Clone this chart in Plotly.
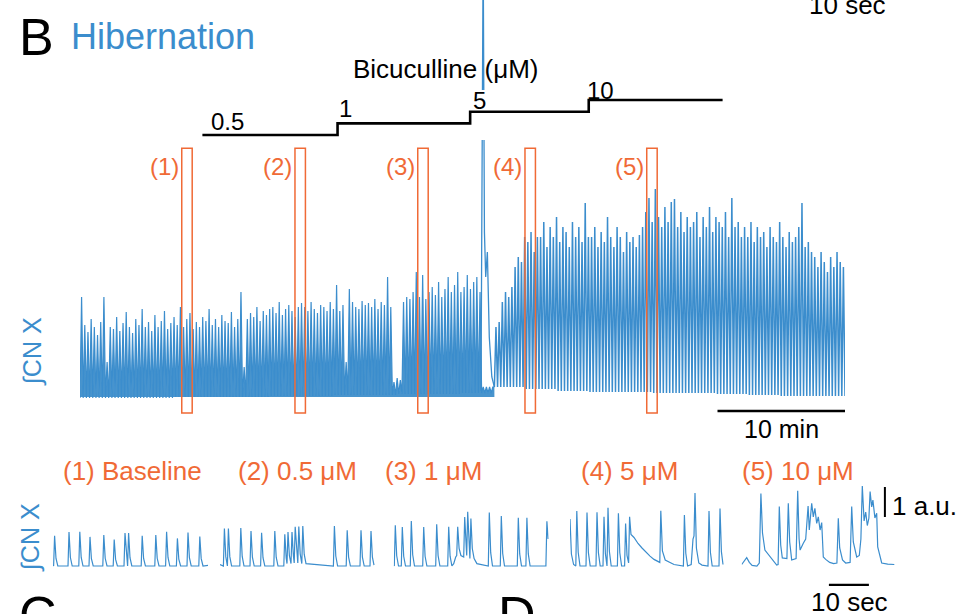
import plotly.graph_objects as go

W, H = 961, 614
BLUE = '#3b8dcd'
ORANGE = '#f06a36'
FONT = 'Liberation Sans, Arial, sans-serif'

# ---------------- main recording (time in min, amplitude in a.u.) ----------------
main_step_min = 0.25
main_block_min = 2.5
main_peaks = [
    1.0, 0.72, 0.65, 0.78, 0.7, 0.62, 0.75, 1.0, 0.35, 0.7,
    0.68, 0.8, 0.66, 0.74, 0.85, 0.7, 0.64, 0.78, 0.72, 0.88,
    0.7, 0.75, 0.66, 0.82, 0.7, 0.76, 0.86, 0.68, 0.74, 0.8,
    0.72, 0.9, 0.7, 0.78, 0.84, 0.68, 0.75, 0.7, 0.8, 0.76,
    0.88, 0.72, 0.78, 0.7, 0.82, 0.76, 0.74, 0.85, 0.7, 0.78,
    1.05, 0.3, 0.78, 0.84, 0.8, 0.9, 0.76, 0.86, 0.82, 0.88,
    0.9, 0.84, 0.95, 0.82, 0.88, 0.92, 0.86, 0.8, 0.9, 0.94,
    0.9, 0.86, 0.95, 0.88, 0.84, 0.92, 0.9, 0.86, 0.95, 0.88,
    1.12, 0.86, 0.92, 0.35, 1.08, 0.95, 0.9, 0.88, 0.96, 0.92,
    0.94, 0.9, 0.98, 0.88, 0.95, 0.92, 1.2, 0.9, 0.15, 0.19,
    0.17, 0.95, 1.0, 0.98, 1.05, 1.25, 1.0, 1.22, 0.98, 1.05,
    1.1, 1.02, 1.15, 1.0, 1.08, 1.2, 1.05, 1.12, 1.25, 1.05,
    1.1, 1.22, 1.08, 1.15, 1.2, 1.05, 0.1, 0.1, 0.1, 0.1,
    0.7, 0.75, 0.95, 1.05, 1.0, 1.1, 1.3, 1.4, 1.35, 1.6,
    1.55, 1.65, 1.45, 1.6, 1.6, 1.75, 1.5, 1.7, 1.6, 1.8,
    1.55, 1.7, 1.65, 1.5, 1.75, 1.6, 1.7, 1.55, 1.94, 1.6,
    1.6, 1.7, 1.5, 1.65, 1.55, 1.8, 1.6, 1.5, 1.7, 1.6,
    1.45, 1.65, 1.55, 1.6, 1.5, 1.62, 1.7, 1.85, 1.99, 1.75,
    2.08, 1.8, 1.7, 1.9, 1.75, 1.95, 1.98, 1.7, 1.85, 1.65,
    1.8, 1.7, 1.75, 1.85, 1.6, 1.8, 1.7, 1.9, 1.65, 1.8,
    1.75, 1.7, 1.85, 1.6, 1.99, 1.7, 1.75, 1.6, 1.7, 1.6,
    1.75, 1.55, 1.7, 1.6, 1.65, 1.5, 1.7, 1.6, 1.55, 1.75,
    1.6, 1.5, 1.65, 1.55, 1.6, 1.7, 1.94, 1.5, 1.55, 1.45,
    1.4, 1.3, 1.45, 1.35, 1.25, 1.4, 1.3, 1.45, 1.35, 1.3,
]
main_base = [-0.01, -0.01, -0.01, 0.0, 0.0, 0.0, 0.01, 0.01, 0.02, 0.02, 0.03, 0.03,
             0.04, 0.1, 0.08, 0.06, 0.05, 0.05, 0.04, 0.04, 0.03, 0.02, 0.01, 0.01]
event_t = [31.45, 31.62, 31.72, 31.82, 31.95, 32.1, 32.3, 32.5]
event_v = [0.06, 4.5, 1.65, 1.2, 1.45, 0.6, 0.2, 0.1]
main_post_event_min = 32.5

bic_labels = ['0.5', '1', '5', '10']
bic_start_min = [9.6, 20.2, 30.6, 39.9]
bic_end_min = 50.4

window_labels = ['(1)', '(2)', '(3)', '(4)', '(5)']
window_start_min = [7.98, 16.86, 26.49, 34.9, 44.45]
window_len_min = 0.82
main_scale_min = 10

# ---------------- expanded windows (time in s, amplitude in a.u.) ----------------
inset_titles = ['(1) Baseline', '(2) 0.5 μM', '(3) 1 μM', '(4) 5 μM', '(5) 10 μM']
inset_len_s = 38.75

# spikes: (time, amplitude, foot level)
inset1_spikes = [(0.4, 1.01, 0), (4.0, 1.13, 0), (6.7, 1.14, 0), (9.25, 0.97, 0), (12.7, 1.03, 0),
                 (15.3, 0.88, 0), (18.0, 1.10, 0), (18.9, 1.10, 0), (22.3, 1.01, 0), (25.7, 1.03, 0),
                 (28.4, 1.14, 0), (31.1, 0.92, 0), (33.75, 1.12, 0), (36.7, 0.98, 0)]
inset1_extra = [(0.0, 0.03), (38.75, 0.02)]

inset2_spikes = [(1.1, 1.25, 0), (2.1, 1.25, 0), (5.2, 1.27, 0), (7.75, 1.17, 0), (10.4, 1.11, 0),
                 (13.7, 1.17, 0), (16.2, 1.06, 0), (17.0, 1.13, 0.08), (18.0, 1.13, 0.08),
                 (18.8, 1.31, 0.1), (19.7, 1.32, 0.1), (20.7, 1.33, 0.08), (28.6, 1.33, 0),
                 (31.8, 1.19, 0), (35.25, 1.19, 0), (37.75, 1.17, 0)]
inset2_extra = [(0.0, 0.05), (38.5, 0.03)]

inset3_spikes = [(0.4, 1.36, 0), (2.15, 1.3, 0), (4.4, 1.5, 0), (7.5, 1.3, 0), (10.75, 1.39, 0),
                 (13.75, 1.31, 0), (16.0, 1.31, 0.35), (17.75, 1.63, 0.3), (18.5, 1.81, 0.35),
                 (19.3, 1.58, 0.25), (23.9, 1.78, 0), (26.9, 1.67, 0), (31.15, 1.61, 0),
                 (33.3, 1.61, 0), (38.3, 1.49, 0)]
inset3_extra = [(0.0, 0.03), (15.0, 0.08), (15.5, 0.3), (20.8, 0.08), (38.6, 0.9)]

inset4_spikes = [(1.7, 1.83, 0), (4.25, 1.78, 0), (6.75, 1.79, 0), (8.5, 1.64, 0), (9.5, 1.94, 0),
                 (12.1, 1.76, 0), (13.9, 1.42, 0), (28.6, 1.7, 0), (34.75, 1.83, 0), (37.5, 1.92, 0)]
inset4_extra = [(0.0, 1.57), (0.35, 0.4), (0.9, 0.05),
                (14.65, 0.1), (14.9, 1.64), (15.25, 1.05), (16.0, 0.95), (17.0, 0.75), (18.0, 0.6),
                (19.0, 0.45), (20.0, 0.33), (21.0, 0.22), (22.0, 0.14), (22.45, 0.12), (22.7, 1.84),
                (23.1, 0.5), (23.8, 0.2), (25.0, 0.12), (26.0, 0.05),
                (30.3, 0.05), (30.75, 0.9), (31.0, 1.0), (31.25, 2.43), (31.6, 0.6), (32.2, 0.1),
                (33.0, 0.03), (38.25, 0.05)]

inset5_spikes = []
inset5_extra = [(0.0, 0.05), (0.6, 0.15), (1.25, 0.28), (1.9, 0.12), (2.6, 0.02), (3.8, 0.0),
                (4.4, 0.1), (4.8, 2.42), (5.2, 1.1), (5.8, 0.53), (6.6, 0.4), (7.5, 0.27),
                (8.75, 0.03), (9.1, 0.05), (9.4, 1.98), (9.75, 0.7), (10.15, 0.27), (11.3, 0.25),
                (11.65, 2.09), (12.0, 0.8), (12.5, 0.2), (13.6, 0.25), (14.0, 2.51), (14.35, 0.9),
                (14.6, 0.53), (15.4, 0.76), (16.0, 0.9), (16.6, 2.0), (16.9, 1.2), (17.5, 2.09),
                (17.9, 1.64), (18.3, 1.92), (18.75, 1.42), (19.15, 1.64), (19.6, 1.2), (20.0, 1.45),
                (20.4, 0.3), (21.0, 0.22), (22.0, 0.12), (23.0, 0.08), (23.8, 0.1), (24.15, 1.59),
                (24.5, 0.6), (25.2, 0.2), (26.0, 0.1), (27.1, 0.12), (27.5, 1.98), (27.9, 0.8),
                (28.75, 0.3), (29.4, 0.35), (29.8, 0.9), (30.15, 2.67), (30.6, 1.5), (31.0, 1.8),
                (31.4, 1.35), (31.8, 1.6), (32.1, 2.48), (32.5, 1.97), (32.8, 2.2), (33.3, 1.6),
                (33.75, 1.76), (34.0, 0.64), (34.6, 0.25), (35.0, 0.1), (36.5, 0.06), (38.15, 0.05)]

inset_spikes = [inset1_spikes, inset2_spikes, inset3_spikes, inset4_spikes, inset5_spikes]
inset_extra = [inset1_extra, inset2_extra, inset3_extra, inset4_extra, inset5_extra]
inset_scale_s = 10
inset_scale_au = 1


def build_inset(spikes, extra):
    """Render listed spikes (fast rise, fast decay) merged with explicitly read vertices."""
    extra = sorted(extra)
    pts = list(extra)
    for k, (t, a, f) in enumerate(spikes):
        foot = t - 0.25
        nxt = [s[0] - 0.25 for s in spikes[k + 1:]] + [e[0] for e in extra if e[0] > t]
        limit = min(nxt) if nxt else 1e9
        pts.append((foot, f))
        pts.append((t, a))
        for dt, frac in ((0.35, 0.25), (0.8, 0.0)):
            if t + dt < limit:
                pts.append((t + dt, f + frac * (a - f)))
    pts.sort()
    return [p[0] for p in pts], [p[1] for p in pts]


def px(x):
    return x / W


def py(y):
    return 1 - y / H


fig = go.Figure()

# main trace: pre-event part (dense) and post-event part (sparser, broader bursts)
pre_t, pre_v, post_t, post_v = [], [], [], []
for i, pk in enumerate(main_peaks):
    b = main_base[int(i * main_step_min // main_block_min)]
    t0 = i * main_step_min
    if t0 < main_post_event_min:
        pre_t += [t0, t0 + 0.5 * main_step_min]
        pre_v += [b, pk]
    else:
        post_t += [t0, t0 + 0.5 * main_step_min]
        post_v += [b, pk]
pre_t.append(main_post_event_min)
pre_v.append(main_base[int(main_post_event_min // main_block_min)])
post_t.append(len(main_peaks) * main_step_min)
post_v.append(main_base[-1])

fig.add_trace(go.Scatter(x=pre_t, y=pre_v, mode='lines', line=dict(color=BLUE, width=1.2),
                         fill='tozeroy', fillcolor='rgba(52,136,200,0.9)',
                         xaxis='x', yaxis='y', hoverinfo='skip'))
fig.add_trace(go.Scatter(x=post_t, y=post_v, mode='lines', line=dict(color=BLUE, width=1.5),
                         xaxis='x', yaxis='y', hoverinfo='skip'))
fig.add_trace(go.Scatter(x=event_t, y=event_v, mode='lines', line=dict(color=BLUE, width=1.3),
                         xaxis='x', yaxis='y', hoverinfo='skip'))

# bicuculline steps
bx = bic_start_min + [bic_end_min]
by = list(range(len(bic_start_min))) + [len(bic_start_min) - 1]
fig.add_trace(go.Scatter(x=bx, y=by, mode='lines', line=dict(color='black', width=2.6, shape='hv'),
                         xaxis='x2', yaxis='y2', hoverinfo='skip'))

# insets
for k in range(5):
    t, v = build_inset(inset_spikes[k], inset_extra[k])
    fig.add_trace(go.Scatter(x=t, y=v, mode='lines', line=dict(color=BLUE, width=1.2),
                             xaxis=f'x{k + 3}', yaxis=f'y{k + 3}', hoverinfo='skip'))

shapes = []
annotations = []

# windows on main trace
for lab, ws in zip(window_labels, window_start_min):
    shapes.append(dict(type='rect', xref='x', yref='y', x0=ws, x1=ws + window_len_min,
                       y0=-0.16, y1=2.487, line=dict(color=ORANGE, width=1.5)))
    annotations.append(dict(xref='x', yref='y', x=ws, y=2.31, text=lab, showarrow=False,
                            xanchor='right', yanchor='middle', xshift=-1,
                            font=dict(size=24, color=ORANGE, family=FONT)))

# main scale bar
shapes.append(dict(type='line', xref='x', yref='y', x0=60 - main_scale_min, x1=60, y0=-0.14, y1=-0.14,
                   line=dict(color='black', width=2.5)))

# bicuculline labels
bic_xshift = [7, -1, 1, -4]
bic_yshift = [13, 15, 11, 10]
for k, lab in enumerate(bic_labels):
    annotations.append(dict(xref='x2', yref='y2', x=bic_start_min[k], y=k, text=lab, showarrow=False,
                            xanchor='left', yanchor='middle', xshift=bic_xshift[k], yshift=bic_yshift[k],
                            font=dict(size=24, color='black', family=FONT)))

# inset scale bars (in inset 5 coordinates)
shapes.append(dict(type='line', xref='x7', yref='y7', x0=21.8, x1=21.8 + inset_scale_s, y0=-0.63, y1=-0.63,
                   line=dict(color='black', width=2.2)))
shapes.append(dict(type='line', xref='x7', yref='y7', x0=35.8, x1=35.8, y0=1.63, y1=1.63 + inset_scale_au,
                   line=dict(color='black', width=2)))


def txt(text, x, y, size, color='black', xanchor='center', angle=0):
    annotations.append(dict(xref='paper', yref='paper', x=px(x), y=py(y), text=text, showarrow=False,
                            xanchor=xanchor, yanchor='middle', textangle=angle,
                            font=dict(size=size, color=color, family=FONT)))


txt('B', 17, 37, 52, xanchor='left')
txt('Hibernation', 69, 36, 36, color=BLUE, xanchor='left')
txt('10 sec', 847, 5, 26)
txt('Bicuculline (μM)', 445, 69, 26)
txt('∫CN X', 32, 352, 25, color=BLUE, angle=-90)
txt('10 min', 781, 429, 25)
for title, cx in zip(inset_titles, [132, 297, 433, 629, 798]):
    txt(title, cx, 471, 26, color=ORANGE)
txt('∫CN X', 30, 538, 25, color=BLUE, angle=-90)
txt('1 a.u.', 890, 506, 26, xanchor='left')
txt('10 sec', 849, 602, 26)
txt('C', 17, 615, 52, xanchor='left')
txt('D', 496, 615, 52, xanchor='left')

layout = dict(
    width=W, height=H, margin=dict(l=0, r=0, t=0, b=0),
    paper_bgcolor='white', plot_bgcolor='white', showlegend=False,
    shapes=shapes, annotations=annotations,
    xaxis=dict(domain=[px(80), px(845)], range=[0, 60], visible=False),
    yaxis=dict(domain=[py(420), 1], range=[-0.23, 3.97], visible=False),
    xaxis2=dict(domain=[px(80), px(845)], range=[0, 60], visible=False, anchor='y2'),
    yaxis2=dict(domain=[py(140), py(90)], range=[-0.43, 3.86], visible=False, anchor='x2'),
)
inset_left = [53, 220, 393.7, 570, 741.7]
for k in range(5):
    layout[f'xaxis{k + 3}'] = dict(domain=[px(inset_left[k]), px(inset_left[k] + 155)],
                                   range=[0, inset_len_s], visible=False, anchor=f'y{k + 3}')
    layout[f'yaxis{k + 3}'] = dict(domain=[py(590), py(480)], range=[-0.8, 2.867], visible=False,
                                   anchor=f'x{k + 3}')
fig.update_layout(**layout)
fig.write_html('out.html')
